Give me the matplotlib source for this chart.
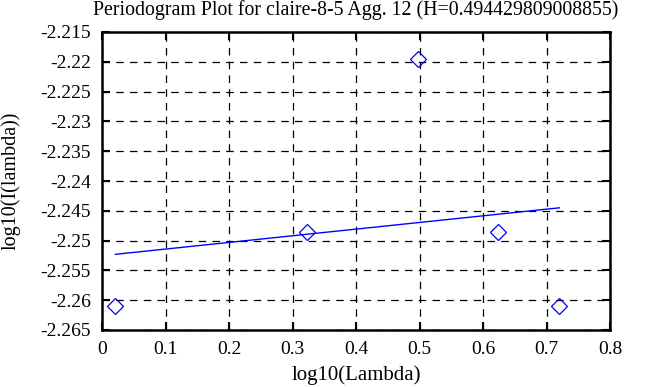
import matplotlib
matplotlib.use("Agg")
import matplotlib.pyplot as plt

plt.rcParams['font.family'] = ['Liberation Serif', 'DejaVu Serif']

# data
log_lambda = [0.0212, 0.3222, 0.4983, 0.6232, 0.7202]
log_I = [-2.2610, -2.2485, -2.2196, -2.2485, -2.2610]
fit_x = [0.0212, 0.7202]
fit_y = [-2.2523, -2.2445]
xticks = [0, 0.1, 0.2, 0.3, 0.4, 0.5, 0.6, 0.7, 0.8]
yticks = [-2.265, -2.26, -2.255, -2.25, -2.245, -2.24, -2.235, -2.23, -2.225, -2.22, -2.215]
title = "Periodogram Plot for claire-8-5 Agg. 12 (H=0.494429809008855)"

fig = plt.figure(figsize=(6.68, 3.87), dpi=100)
ax = fig.add_axes([102/668, 1-330/387, (610-102)/668, (330-32)/387])

ax.plot(log_lambda, log_I, linestyle='none', marker='D', markersize=8,
        markerfacecolor='none', markeredgecolor='blue', markeredgewidth=0.9)
ax.plot(fit_x, fit_y, color='blue', linewidth=1.0)

ax.set_xlim(0, 0.8)
ax.set_ylim(-2.265, -2.215)
ax.set_xticks(xticks)
ax.set_xticklabels([f"{v:g}" for v in xticks])
ax.set_yticks(yticks)
ax.set_yticklabels([f"{v:g}" for v in yticks])
ax.grid(True, color='black', linestyle=(0, (6, 5)), linewidth=0.9)
ax.tick_params(direction='in', length=6, width=1.5, top=True, right=True,
               labelsize=14)
ax.tick_params(axis='y', pad=8)
ax.tick_params(axis='x', pad=8)
for s in ax.spines.values():
    s.set_linewidth(1.8)

ax.set_xlabel("log10(Lambda)", fontsize=15, va='center')
ax.xaxis.set_label_coords(0.5, (330-375)/298)
ax.set_ylabel("log10(I(lambda))", fontsize=14.5, va='center')
ax.yaxis.set_label_coords((11-102)/508, 0.5)
ax.set_title(title, fontsize=14.3, y=(330-10)/298, va='center', pad=0)

fig.savefig("out.png", dpi=100)
